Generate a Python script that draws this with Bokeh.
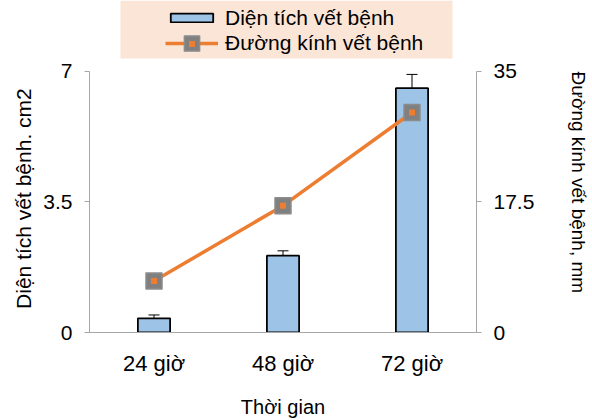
import math
from bokeh.plotting import figure
from bokeh.models import (Range1d, LinearAxis, FixedTicker, ColumnDataSource, Whisker,
                          TeeHead, Legend, LegendItem, FactorRange, BoxAnnotation)
from bokeh.embed import file_html
from bokeh.resources import INLINE

categories = ["24 giờ", "48 giờ", "72 giờ"]
area = [0.38, 2.06, 6.55]
area_err = [0.09, 0.13, 0.37]
diameter = [6.9, 17.0, 29.5]
left_ticks = [0, 3.5, 7]
right_ticks = [0, 17.5, 35]

FONT = "Liberation Sans"
NB = "\u00a0"

# frame spans the full height above the x axis; axes limited by bounds
H_PLOT = 420 - 83
H_AXIS = 265
ext = H_PLOT / H_AXIS

src = ColumnDataSource(dict(
    x=categories, area=area,
    lo=[a - e for a, e in zip(area, area_err)],
    hi=[a + e for a, e in zip(area, area_err)],
    d=diameter,
))

p = figure(width=592, height=420, x_range=FactorRange(*categories, range_padding=0),
           y_range=Range1d(0, 7 * ext), output_backend="svg", toolbar_location=None,
           min_border_left=89, min_border_right=114, min_border_top=0, min_border_bottom=83)
p.outline_line_color = None
p.grid.visible = False
p.extra_y_ranges = {"r": Range1d(0, 35 * ext)}

# legend background panel
p.add_layout(BoxAnnotation(left=120, right=452, top=0, bottom=58,
                           left_units="canvas", right_units="canvas",
                           top_units="canvas", bottom_units="canvas",
                           fill_color="#FBE5D6", fill_alpha=1, line_color=None))

bars = p.vbar(x="x", top="area", width=0.25, source=src, fill_color="#9DC3E6",
              line_color="black", line_width=1.8)
wh = Whisker(base="x", lower="lo", upper="hi", source=src, line_color="black", line_width=1,
             upper_head=TeeHead(size=11, line_color="black", line_width=1),
             lower_head=TeeHead(size=11, line_color="black", line_width=1))
p.add_layout(wh)

ln = p.line(x="x", y="d", source=src, y_range_name="r", line_color="#ED7D31", line_width=3.5)
m1 = p.scatter(x="x", y="d", source=src, y_range_name="r", marker="square", size=16,
               fill_color="#808080", line_color="#8C8C8C", line_width=1.5, line_join="round")
m2 = p.scatter(x="x", y="d", source=src, y_range_name="r", marker="square", size=6,
               fill_color="#ED7D31", line_color=None)

# axes
for ax in [p.xaxis[0], p.yaxis[0]]:
    ax.axis_line_color = "#A6A6A6"
    ax.major_label_text_font = FONT
    ax.major_label_text_color = "black"
    ax.axis_label_text_font = FONT
    ax.axis_label_text_font_style = "normal"
    ax.axis_label_text_color = "black"

p.xaxis.major_tick_line_color = None
p.xaxis.major_label_text_font_size = "22px"
p.xaxis.major_label_standoff = 12
p.xaxis.axis_label = "Thời gian"
p.xaxis.axis_label_text_font_size = "20px"
p.xaxis.axis_label_standoff = 17

p.yaxis[0].ticker = FixedTicker(ticks=left_ticks)
p.yaxis[0].bounds = (0, 7)
p.yaxis[0].minor_tick_line_color = None
p.yaxis[0].major_tick_line_color = "#A6A6A6"
p.yaxis[0].major_tick_out = 5
p.yaxis[0].major_tick_in = 0
p.yaxis[0].major_label_standoff = 12
p.yaxis[0].major_label_text_font_size = "21px"
p.yaxis[0].axis_label = "Diện tích vết bệnh. cm2" + NB * 11
p.yaxis[0].axis_label_text_font_size = "21px"
p.yaxis[0].axis_label_standoff = 5

ra = LinearAxis(y_range_name="r", ticker=FixedTicker(ticks=right_ticks),
                axis_label=NB * 6 + "Đường kính vết bệnh, mm", bounds=(0, 35))
ra.axis_line_color = "#A6A6A6"
ra.major_tick_line_color = "#A6A6A6"
ra.minor_tick_line_color = None
ra.major_tick_out = 5
ra.major_tick_in = 0
ra.major_label_standoff = 12
ra.major_label_text_font = FONT
ra.major_label_text_font_size = "21px"
ra.major_label_text_color = "black"
ra.axis_label_text_font = FONT
ra.axis_label_text_font_size = "19px"
ra.axis_label_text_font_style = "normal"
ra.axis_label_text_color = "black"
ra.axis_label_standoff = 31
p.add_layout(ra, "right")


def style(lg, glyph_h, label_h):
    lg.background_fill_alpha = 0
    lg.border_line_color = None
    lg.label_text_font = FONT
    lg.label_text_font_size = "21px"
    lg.label_text_color = "black"
    lg.glyph_width = 53
    lg.glyph_height = glyph_h
    lg.label_height = label_h
    lg.spacing = 0
    lg.margin = 0
    lg.padding = 0
    lg.label_standoff = 7


# row 1: bar item
lg1 = Legend(items=[LegendItem(label="Diện tích vết bệnh", renderers=[bars])],
             location=(76, 337 - 35))
style(lg1, 11, 25)
# row 2: line + marker item
lg2 = Legend(items=[LegendItem(label="Đường kính vết bệnh", renderers=[ln, m1])],
             location=(76, 337 - 67))
style(lg2, 38, 25)
# row 2: inner orange square of the marker
lg3 = Legend(items=[LegendItem(label=" ", renderers=[m2])],
             location=(76, 337 - 55.5))
style(lg3, 15, 15)
for lg in (lg1, lg2, lg3):
    p.add_layout(lg, "center")

open("out.html", "w").write(file_html(p, INLINE))
